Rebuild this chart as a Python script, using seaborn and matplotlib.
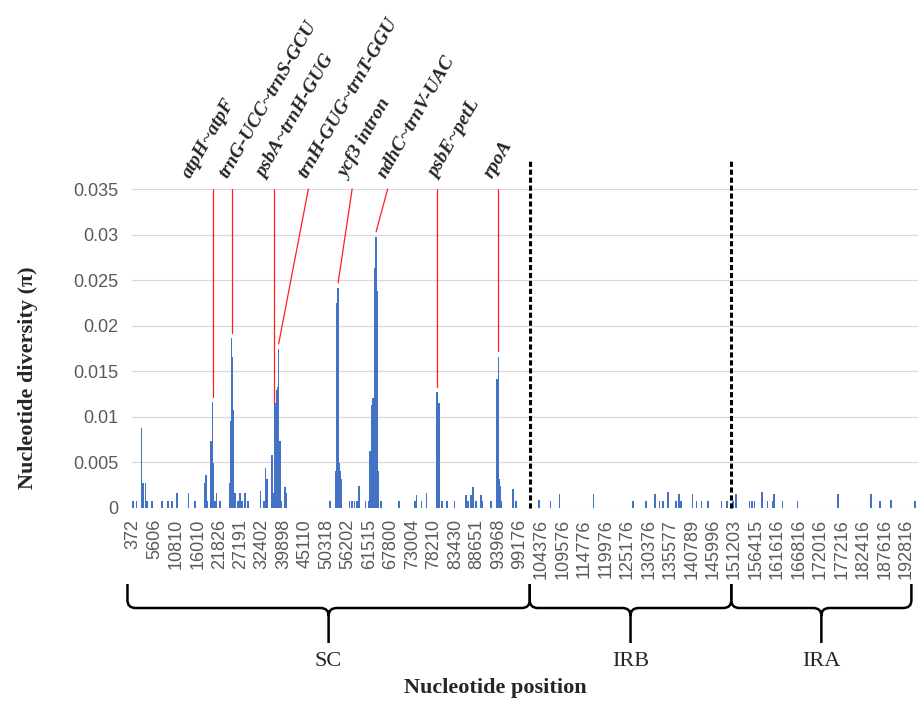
import matplotlib
matplotlib.use("Agg")
import matplotlib.pyplot as plt
import matplotlib.transforms as mtransforms
from matplotlib.path import Path
from matplotlib.patches import PathPatch
import numpy as np
import pandas as pd
import seaborn as sns

# x axis labels, one every 26 sliding windows
tick_labels = [
    "372", "5606", "10810", "16010", "21826", "27191", "32402", "39898",
    "45110", "50318", "56202", "61515", "67800", "73004", "78210", "83430",
    "88651", "93968", "99176", "104376", "109576", "114776", "119976",
    "125176", "130376", "135577", "140789", "145996", "151203", "156415",
    "161616", "166816", "172016", "177216", "182416", "187616", "192816",
]
y_ticks = [0, 0.005, 0.01, 0.015, 0.02, 0.025, 0.03, 0.035]
y_tick_labels = ["0", "0.005", "0.01", "0.015", "0.02", "0.025", "0.03", "0.035"]

# sliding windows with pi > 0 (window number, pi)
window_idx = [
    0, 4, 10, 12, 15, 17, 23, 35, 42, 47, 53, 67, 75, 87, 88, 90, 94, 96, 97,
    99, 101, 105, 117, 118, 119, 120, 121, 123, 127, 129, 132, 135, 139, 154,
    158, 160, 162, 168, 170, 171, 172, 173, 174, 175, 176, 178, 179, 184, 185,
    238, 245, 246, 248, 249, 250, 252, 262, 265, 268, 271, 273, 281, 285, 287,
    289, 290, 291, 293, 294, 295, 296, 300, 322, 341, 343, 349, 355, 367, 368,
    370, 374, 380, 389, 403, 405, 409, 411, 415, 421, 422, 433, 440, 442, 443,
    444, 446, 460, 463,
    491, 505, 516, 557, 605, 621, 632, 637, 641, 647, 657, 661, 663, 677, 682,
    688, 696, 712, 719,
    726, 730, 746, 749, 752, 761, 768, 774, 776, 786, 804, 853, 893, 904, 917,
    946,
]
pi_values = [
    0.0008, 0.0008, 0.0088, 0.0027, 0.0027, 0.0008, 0.0008, 0.0008, 0.0008,
    0.0008, 0.0017, 0.0017, 0.0008, 0.0027, 0.0036, 0.0008, 0.0074, 0.0116,
    0.0049, 0.0008, 0.0017, 0.0008, 0.0027, 0.0096, 0.0186, 0.0166, 0.0107,
    0.0017, 0.0008, 0.0017, 0.0008, 0.0017, 0.0008, 0.0019, 0.0008, 0.0044,
    0.0032, 0.0058, 0.0017, 0.0109, 0.0115, 0.0096, 0.0129, 0.0133, 0.0174,
    0.0074, 0.0008, 0.0023, 0.0017,
    0.0008, 0.0041, 0.0225, 0.0241, 0.0049, 0.0041, 0.0032, 0.0008, 0.0008,
    0.0008, 0.0008, 0.0024, 0.0008, 0.0008, 0.0063, 0.0113, 0.0121, 0.0083,
    0.0263, 0.0297, 0.0238, 0.0041, 0.0008, 0.0008, 0.0008, 0.0014, 0.0008,
    0.0017, 0.0008, 0.0127, 0.0115, 0.0008, 0.0008, 0.0008, 0.0014, 0.0008,
    0.0014, 0.0023, 0.0008, 0.0014, 0.0008, 0.0008, 0.0141, 0.0166, 0.0032,
    0.0024, 0.0008, 0.0021, 0.0008,
    0.0009, 0.0008, 0.0015, 0.0015, 0.0008, 0.0008, 0.0015, 0.0008, 0.0008,
    0.0018, 0.0008, 0.0015, 0.0008, 0.0015, 0.0008, 0.0008, 0.0008, 0.0008,
    0.0008,
    0.0008, 0.0015, 0.0008, 0.0008, 0.0008, 0.0018, 0.0008, 0.0008, 0.0015,
    0.0008, 0.0008, 0.0015, 0.0015, 0.0008, 0.0009, 0.0008,
]

# highly variable loci and the window of their peak
hotspot_names = [
    "atpH~atpF", "trnG-UCC~trnS-GCU", "psbA~trnH-GUG", "trnH-GUG~trnT-GGU",
    "ycf3 intron", "ndhC~trnV-UAC", "psbE~petL", "rpoA",
]
hotspot_window = [96, 119, 171, 176, 248, 294, 368, 442]

# genome regions (window index of the borders)
region_names = ["SC", "IRB", "IRA"]
region_edges = [-7, 480, 724, 942]

# layout of the labels / leader lines (window units)
label_x = [69, 114, 160, 210, 259, 305, 368, 435]
line_top_shift = [0, 0, 0, 36, 17, 14, 0, 0]

sns.set_style("white")
plt.rcParams["font.family"] = ["Liberation Sans", "DejaVu Sans"]
SERIF = ["Liberation Serif", "DejaVu Serif"]

fig = plt.figure(figsize=(9.18, 7.02), dpi=100)
ax = fig.add_axes([132 / 918, 194 / 702, 786 / 918, 319 / 702])

df = pd.DataFrame({"window": window_idx, "pi": pi_values})
sns.barplot(data=df, x="window", y="pi", native_scale=True, color="#4472C4",
            saturation=1, width=2.0, linewidth=0, errorbar=None, ax=ax)

ax.set_xlim(-1.5, 950)
ax.set_ylim(0, 0.035)
ax.set_xticks(np.arange(len(tick_labels)) * 26)
ax.set_xticklabels(tick_labels, rotation=90)
ax.set_yticks(y_ticks)
ax.set_yticklabels(y_tick_labels)
ax.tick_params(axis="both", length=0, labelsize=13, labelcolor="#595959")
ax.tick_params(axis="y", pad=10)
ax.tick_params(axis="x", pad=8)
ax.set_xlabel("")
ax.set_ylabel("")
for s in ax.spines.values():
    s.set_visible(False)
ax.grid(axis="y", color="#d9d9d9", linewidth=0.9)
ax.set_axisbelow(True)

# region borders
for xb in region_edges[1:3]:
    ax.plot([xb, xb], [0, 0.0381], color="black", lw=2.2, ls=(0, (1.7, 0.9)),
            clip_on=False, zorder=5)

# leader lines and names of the hotspots
pi_by_window = dict(zip(window_idx, pi_values))
for name, w, lx, shift in zip(hotspot_names, hotspot_window, label_x, line_top_shift):
    ax.plot([w + shift, w], [0.035, pi_by_window[w] + 0.0006], color="#ff2020",
            lw=0.9, clip_on=False, zorder=6)
    ax.text(lx, 0.0361, name, rotation=60, rotation_mode="anchor", ha="left",
            va="baseline", fontsize=14, fontweight="bold", fontstyle="italic",
            family=SERIF, clip_on=False)

# braces under the axis
trans = mtransforms.blended_transform_factory(ax.transData, fig.transFigure)
y_h = 1 - 608 / 702
y_end = 1 - 584 / 702
y_tip = 1 - 643 / 702
ry = 0.011
rx = 10
for name, x0, x1 in zip(region_names, region_edges[:-1], region_edges[1:]):
    xm = (x0 + x1) / 2
    verts = [
        (x0, y_end), (x0, y_h + ry), (x0, y_h), (x0 + rx, y_h),
        (xm - rx, y_h), (xm, y_h), (xm, y_h - ry), (xm, y_tip),
        (xm, y_h - ry), (xm, y_h), (xm + rx, y_h),
        (x1 - rx, y_h), (x1, y_h), (x1, y_h + ry), (x1, y_end),
    ]
    codes = [
        Path.MOVETO, Path.LINETO, Path.CURVE3, Path.CURVE3,
        Path.LINETO, Path.CURVE3, Path.CURVE3, Path.LINETO,
        Path.MOVETO, Path.CURVE3, Path.CURVE3,
        Path.LINETO, Path.CURVE3, Path.CURVE3, Path.LINETO,
    ]
    ax.add_patch(PathPatch(Path(verts, codes), transform=trans, fill=False,
                           lw=1.8, edgecolor="black", clip_on=False))
    ax.text(xm, 1 - 662 / 702, name, transform=trans, ha="center", va="center",
            fontsize=16, family=SERIF)

fig.text(495 / 918, 1 - 688 / 702, "Nucleotide position", ha="center",
         va="center", fontsize=16, fontweight="bold", family=SERIF)
fig.text(28 / 918, 1 - 378 / 702, "Nucleotide diversity (π)", rotation=90,
         ha="center", va="center", fontsize=16, fontweight="bold", family=SERIF)

fig.savefig("out.png", dpi=100)
